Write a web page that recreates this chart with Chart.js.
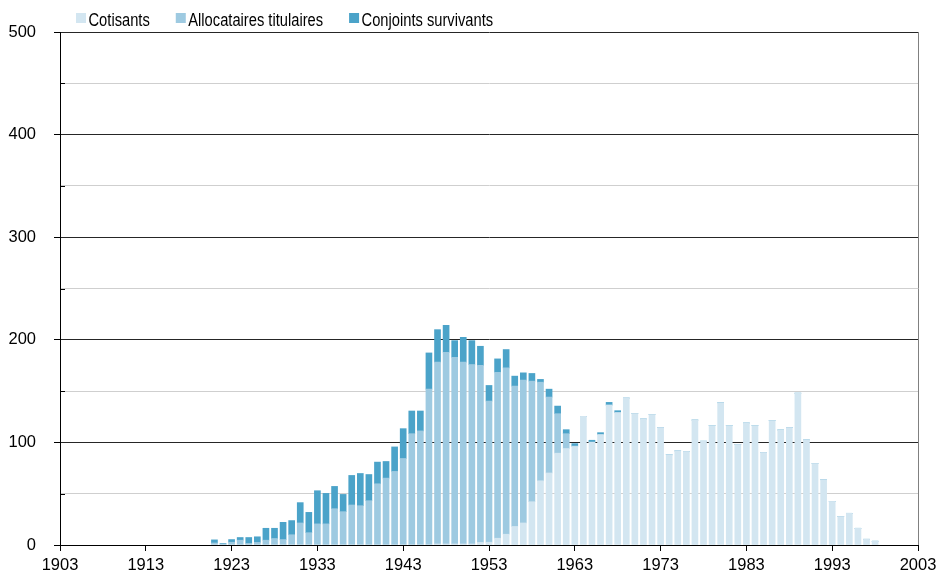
<!DOCTYPE html>
<html>
<head>
<meta charset="utf-8">
<script src="https://cdn.jsdelivr.net/npm/chart.js@4.4.1/dist/chart.umd.min.js"></script>
<style>
html,body{margin:0;padding:0;background:#fff;}
#wrap{width:939px;height:581px;position:relative;}
</style>
</head>
<body>
<div id="wrap"><canvas id="c" width="939" height="581"></canvas></div>
<script>
// ---- Data ----
const years = [1921,1922,1923,1924,1925,1926,1927,1928,1929,1930,
  1931,1932,1933,1934,1935,1936,1937,1938,1939,1940,
  1941,1942,1943,1944,1945,1946,1947,1948,1949,1950,
  1951,1952,1953,1954,1955,1956,1957,1958,1959,1960,
  1961,1962,1963,1964,1965,1966,1967,1968,1969,1970,
  1971,1972,1973,1974,1975,1976,1977,1978,1979,1980,
  1981,1982,1983,1984,1985,1986,1987,1988,1989,1990,
  1991,1992,1993,1994,1995,1996,1997,1998];

const cotisants = [0,0,0,0,0,0,0,0,0,0,
  0,0,0,0,0,0,0,0,0,0,
  0,0,0,0,0,0,1,1,1,1,
  1,2.5,2.7,6.6,10.5,18,21.5,42.2,62.6,70.2,
  89.5,94,96,125.4,100.2,107.6,136.4,129,143.2,128,
  122.8,127,114.4,87.9,91.7,91.1,121.8,101.2,116.3,138.6,
  116.3,97.9,118.9,116.3,90.1,121.2,112.1,114.4,148,102.4,
  79.4,63.6,42.5,27.7,30.9,16.3,5.6,3.7];

const allocataires = [2,1,2.7,4.7,1.5,2.5,4.7,6.3,5.3,10,
  21.5,12,20.6,20.6,35.4,32.5,39,38.3,43.2,59.7,
  65.2,71.7,84.3,108.5,111.2,151.9,177.2,186.9,182,177.2,
  174.9,172.5,137.6,161.8,162.1,136.9,139.2,117.5,96.1,74,
  38.5,14.5,0.5,0,0,0,0,0,0,0,
  0,0,0,0,0,0,0,0,0,0,
  0,0,0,0,0,0,0,0,0,0,
  0,0,0,0,0,0,0,0];

const conjoints = [3,0.5,2.6,2.6,5.8,5.5,11.6,10,16.8,13.8,
  19.8,19.8,32.3,29.7,21.7,16.8,28.8,31.4,25.5,21.1,
  16.2,23.9,29.1,22.1,19.4,35.3,31.7,26.2,16.2,24.2,
  23.3,18.7,15.2,13,17.9,9.7,7.1,7.5,2.7,7.7,
  7.4,3.9,2.3,0,1.9,1.9,2.6,1.9,0,0,
  0,0,0,0,0,0,0,0,0,0,
  0,0,0,0,0,0,0,0,0,0,
  0,0,0,0,0,0,0,0];

const tickYears = [1903,1913,1923,1933,1943,1953,1963,1973,1983,1993,2003];
const yTickLabels = [0,100,200,300,400,500];
const seriesNames = ['Cotisants','Allocataires titulaires','Conjoints survivants'];

// ---- Build category axis 1903..2003 ----
const firstYear = tickYears[0], lastYear = tickYears[tickYears.length-1];
const labels = [];
for (let y = firstYear; y <= lastYear; y++) labels.push(String(y));
function toAxis(arr){
  const out = labels.map(() => null);
  years.forEach((yr, i) => { out[yr - firstYear] = arr[i]; });
  return out;
}

const FONT = "'Liberation Sans', Arial, sans-serif";
const colors = ['#d3e6f1', '#9ecae1', '#4ba3c9'];

const legendPlugin = {
  id: 'customLegend',
  afterDraw(chart){
    const ctx = chart.ctx;
    const sx = 0.84;
    ctx.save();
    ctx.font = '17.5px ' + FONT;
    ctx.textBaseline = 'alphabetic';
    let x = 76;
    const base = 26;
    chart.data.datasets.forEach(ds => {
      ctx.fillStyle = ds.backgroundColor;
      ctx.fillRect(x, 13, 10, 10);
      x += 12.5;
      ctx.fillStyle = '#000';
      ctx.save();
      ctx.translate(x, 0);
      ctx.scale(sx, 1);
      ctx.fillText(ds.label, 0, base);
      ctx.restore();
      x += ctx.measureText(ds.label).width * sx + 26;
    });
    ctx.restore();
  }
};

const minorTicksPlugin = {
  id: 'minorTicks',
  afterDraw(chart){
    const ys = chart.scales.y, ctx = chart.ctx;
    ctx.save();
    ctx.strokeStyle = '#000';
    ctx.lineWidth = 1;
    ys.ticks.forEach(t => {
      if (t.value % 100 !== 0) {
        const py = Math.round(ys.getPixelForValue(t.value)) + 0.5;
        ctx.beginPath();
        ctx.moveTo(chart.chartArea.left, py);
        ctx.lineTo(chart.chartArea.left + 5, py);
        ctx.stroke();
      }
    });
    ctx.restore();
  }
};

new Chart(document.getElementById('c'), {
  type: 'bar',
  data: {
    labels: labels,
    datasets: [
      { label: seriesNames[0], data: toAxis(cotisants), backgroundColor: colors[0], barThickness: 6 },
      { label: seriesNames[1], data: toAxis(allocataires), backgroundColor: colors[1], barThickness: 6 },
      { label: seriesNames[2], data: toAxis(conjoints), backgroundColor: colors[2], barThickness: 6 }
    ]
  },
  options: {
    responsive: false,
    animation: false,
    devicePixelRatio: 1,
    layout: { padding: { top: 32, right: 21, left: 0, bottom: 0 } },
    plugins: { legend: { display: false }, tooltip: { enabled: false } },
    scales: {
      x: {
        stacked: true,
        offset: false,
        grid: {
          offset: false,
          drawOnChartArea: true,
          color: ctx => (ctx.index === labels.length - 1 ? '#808080' : 'rgba(0,0,0,0)'),
          tickColor: ctx => (tickYears.includes(firstYear + ctx.index) ? '#000' : 'rgba(0,0,0,0)'),
          tickLength: 6
        },
        border: { color: '#000', width: 1 },
        ticks: {
          autoSkip: false, maxRotation: 0, minRotation: 0, padding: 5,
          color: '#000', font: { family: FONT, size: 16.5 },
          callback: (v, i) => (tickYears.includes(firstYear + i) ? labels[i] : '')
        },
        afterFit: s => { s.height = 36; s.paddingLeft = 0; s.paddingRight = 0; }
      },
      y: {
        stacked: true,
        min: 0, max: 500,
        ticks: {
          stepSize: 50, padding: 18, color: '#000', font: { family: FONT, size: 16.5 },
          callback: v => (yTickLabels.includes(v) ? String(v) : '')
        },
        grid: {
          color: ctx => (ctx.tick && ctx.tick.value % 100 === 0 ? '#262626' : '#cfcfcf'),
          tickColor: ctx => (ctx.tick && ctx.tick.value % 100 === 0 ? '#000' : 'rgba(0,0,0,0)'),
          tickLength: 6
        },
        border: { color: '#000', width: 1 },
        afterFit: s => { s.width = 60; s.paddingTop = 0; s.paddingBottom = 0; }
      }
    }
  },
  plugins: [legendPlugin, minorTicksPlugin]
});
</script>
</body>
</html>
